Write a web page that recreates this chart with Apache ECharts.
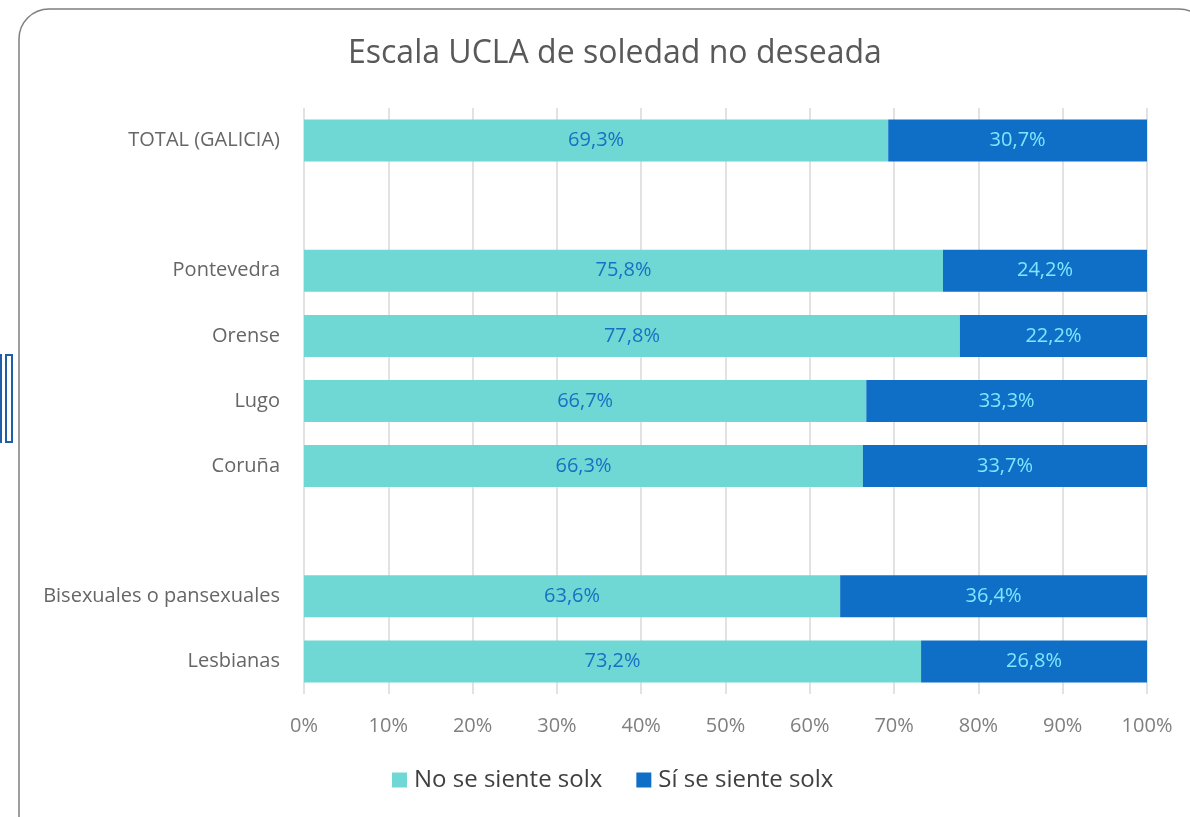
<!DOCTYPE html>
<html>
<head>
<meta charset="utf-8">
<script src="https://cdn.jsdelivr.net/npm/echarts@6/dist/echarts.min.js"></script>
<style>
	html, body { margin: 0; padding: 0; background: #fff; }
	#chart { width: 1190px; height: 817px; }
</style>
</head>
<body>
<div id="chart"></div>
<script>
// categorías (los vacíos son los huecos entre grupos)
const categories = ['TOTAL (GALICIA)', '', 'Pontevedra', 'Orense', 'Lugo', 'Coruña', '', 'Bisexuales o pansexuales', 'Lesbianas'];
const seriesNames = ['No se siente solx', 'Sí se siente solx'];
const noSolx = [69.3, '-', 75.8, 77.8, 66.7, 66.3, '-', 63.6, 73.2];
const siSolx = [30.7, '-', 24.2, 22.2, 33.3, 33.7, '-', 36.4, 26.8];
const xTicks = [0, 10, 20, 30, 40, 50, 60, 70, 80, 90, 100];

const FONT = '"Open Sans", Lato, sans-serif';

const chart = echarts.init(document.getElementById('chart'));

function pct(v) {
	return v.toFixed(1).replace('.', ',') + '%';
}

chart.setOption({
	animation: false,
	title: {
		text: 'Escala UCLA de soledad no deseada',
		left: 343,
		top: 33,
		textStyle: {
			color: '#595959',
			fontSize: 32,
			fontWeight: 'normal',
			fontFamily: FONT
		}
	},
	graphic: [
		{ // marco redondeado
			type: 'rect',
			shape: { x: 19, y: 9, width: 1190, height: 840, r: 30 },
			style: { fill: 'none', stroke: '#7f7f7f', lineWidth: 1.5 },
			silent: true
		},
		{
			type: 'rect',
			shape: { x: 0, y: 354, width: 2, height: 89 },
			style: { fill: '#1f5fa8' }
		},
		{
			type: 'rect',
			shape: { x: 6, y: 355, width: 6, height: 87 },
			style: { fill: 'none', stroke: '#1f5fa8', lineWidth: 2 }
		}
	],
	legend: {
		bottom: 20,
		left: 387,
		itemWidth: 15,
		itemHeight: 15,
		itemGap: 34,
		icon: 'rect',
		textStyle: {
			color: '#404040',
			fontSize: 24,
			fontFamily: FONT,
			padding: [0, 0, 0, 2]
		},
		data: seriesNames
	},
	grid: {
		left: 304,
		right: 43,
		top: 108,
		bottom: 123
	},
	xAxis: {
		type: 'value',
		min: 0,
		max: 100,
		interval: 10,
		axisLine: { show: false },
		axisTick: { show: false },
		axisLabel: {
			color: '#7f7f7f',
			fontSize: 20,
			fontFamily: FONT,
			margin: 22,
			formatter: v => xTicks.includes(v) ? v + '%' : ''
		},
		splitLine: {
			lineStyle: { color: '#d9d9d9', width: 1.5 }
		}
	},
	yAxis: {
		type: 'category',
		inverse: true,
		data: categories,
		axisLine: { show: false },
		axisTick: { show: false },
		axisLabel: {
			color: '#666666',
			fontSize: 20,
			fontFamily: FONT,
			margin: 24
		}
	},
	series: [
		{
			name: seriesNames[0],
			type: 'bar',
			stack: 'total',
			barWidth: 42,
			itemStyle: { color: '#6fd8d4' },
			label: {
				show: true,
				position: 'inside',
				color: '#1a6fc4',
				fontSize: 20,
				fontFamily: FONT,
				formatter: p => pct(p.value)
			},
			data: noSolx
		},
		{
			name: seriesNames[1],
			type: 'bar',
			stack: 'total',
			barWidth: 42,
			itemStyle: { color: '#0f6fc6' },
			label: {
				show: true,
				position: 'inside',
				color: '#7fe6ff',
				fontSize: 20,
				fontFamily: FONT,
				formatter: p => pct(p.value)
			},
			data: siSolx
		}
	]
});
</script>
</body>
</html>
